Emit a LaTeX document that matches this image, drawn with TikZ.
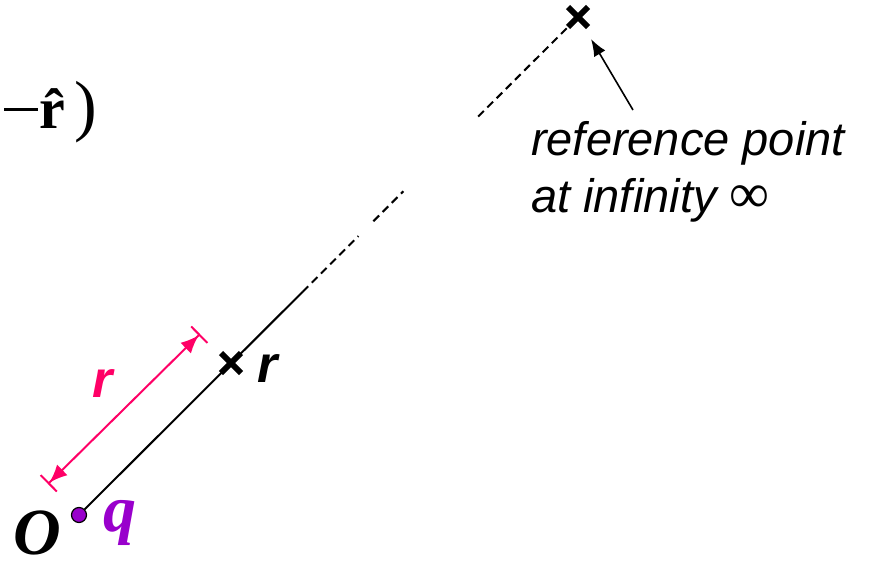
\documentclass[tikz,border=0pt]{standalone}
\usepackage{fontspec}
\setmainfont{Liberation Serif}
\setsansfont{Liberation Sans}
\usepackage{xcolor}
\usepackage{tikz}
\usetikzlibrary{arrows.meta, positioning, calc, shapes.misc}
\definecolor{chargepurple}{RGB}{153,0,204}
\definecolor{distpink}{RGB}{255,0,102}
\tikzset{
  charge/.style={draw, circle, fill=chargepurple, minimum size=15pt, inner sep=0pt, line width=1.2pt},
  xmark/.style={draw, cross out, line width=6pt, minimum size=14pt, inner sep=0pt},
  radial/.style={line width=2pt},
  farline/.style={line width=2pt, dash pattern=on 8pt off 5pt},
  dimline/.style={distpink, line width=2pt, {Bar[width=23pt]Latex[length=18pt,width=15pt]}-{Latex[length=18pt,width=15pt]Bar[width=23pt]}},
  pointer/.style={-{Latex[length=17pt,width=13pt]}, line width=1.6pt},
  note/.style={font=\fontsize{47}{57}\selectfont\sffamily\itshape, align=left, inner sep=0pt},
  lbl/.style={inner sep=0pt, anchor=base west},
  every node/.style={font=\small}
}
\begin{document}
\begin{tikzpicture}[x=1pt, y=-1pt]
    \useasboundingbox (0,0) rectangle (871,562);

    \node[charge] (q) at (79,515) {};
    \node[xmark] (rpt) at (231,363) {};
    \node[xmark] (inf) at (578,17) {};

    \coordinate (s1) at ($(q)!0.448!(inf)$);
    \coordinate (s2) at ($(q)!0.560!(inf)$);
    \coordinate (s3) at ($(q)!0.590!(inf)$);
    \coordinate (s4) at ($(q)!0.650!(inf)$);
    \coordinate (s5) at ($(q)!0.800!(inf)$);

    \draw[radial] (q) -- (s1);
    \draw[farline] (s1) -- (s2);
    \draw[farline] (s3) -- (s4);
    \draw[farline] (s5) -- (inf);

    \coordinate (dimlo) at (48,484);
    \coordinate (dimhi) at (200,334);
    \draw[dimline] (dimlo) -- (dimhi);

    \node[lbl, font=\fontsize{52}{52}\selectfont\sffamily\bfseries\itshape, text=distpink] (rdist) at (92,397) {r};
    \node[lbl, font=\fontsize{52}{52}\selectfont\sffamily\bfseries\itshape] (rname) at (257,382) {r};
    \node[lbl, font=\fontsize{66}{66}\selectfont\bfseries\itshape] (origin) at (13,554) {O};
    \node[lbl, font=\fontsize{66}{66}\selectfont\bfseries\itshape, text=chargepurple] (qname) at (103,531) {q};
    \node[lbl, font=\fontsize{58}{58}\selectfont] (rhat) at (4,128) {\rule[17pt]{34pt}{3.2pt}\kern1pt\textbf{\^{r}}{\fontsize{68}{68}\selectfont)}};

    \node[note, anchor=base west] (reflabel) at (531,212) {reference point\\at infinity {\fontsize{56}{57}\selectfont\rmfamily\upshape ∞}};
    \coordinate (notetail) at (633,110);
    \draw[pointer, shorten >=14pt] (notetail) -- (inf);
\end{tikzpicture}
\end{document}
